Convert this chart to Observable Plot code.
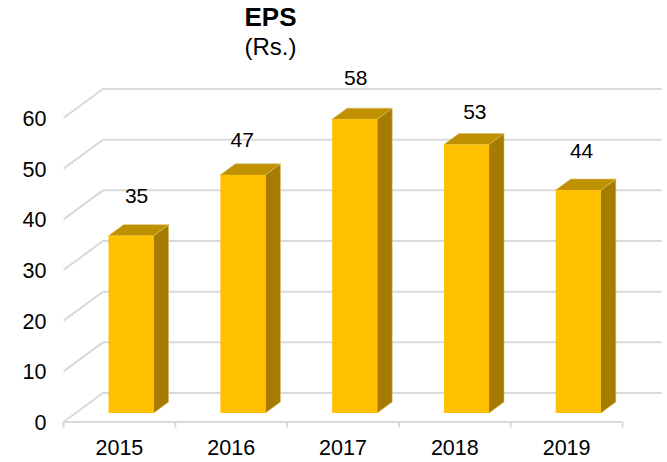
<!DOCTYPE html>
<html>
<head>
<meta charset="utf-8">
<script src="https://cdn.jsdelivr.net/npm/d3@7"></script>
<script src="https://cdn.jsdelivr.net/npm/@observablehq/plot@0.6"></script>
<style>
html,body{margin:0;padding:0;background:#fff;width:667px;height:462px;overflow:hidden}
#title{height:62px;width:541px;text-align:center;font-family:"Liberation Sans",Arial,sans-serif;color:#000;font-size:24px;line-height:29px;padding-top:3px;box-sizing:border-box}
#title b{display:block;font-size:26px}
svg{display:block}
</style>
</head>
<body>
<div id="title"><b>EPS</b><span>(Rs.)</span></div>
<div id="chart"></div>
<script>
const years = ["2015", "2016", "2017", "2018", "2019"];
const eps = [35, 47, 58, 53, 44];
const yTicks = [0, 10, 20, 30, 40, 50, 60];
const labelShiftX = [0.045, -0.01, 0.005, 0.07, 0.025];
const labelLift = [7.9, 6.9, 8.2, 6.4, 7.7];

// Oblique projection of a depth coordinate (0 front wall to 1 back wall) in data units.
const depthX = 0.353, depthY = 5.72;
const px = (x, d) => x + d * depthX;
const py = (y, d) => y + d * depthY;
const barFront = 0.293, barBack = 0.673, barLeft = 0.304, barRight = 0.707;

const bars = years.map((year, i) => ({year, i, value: eps[i]}));
const sidePoints = bars.flatMap(b => [barFront, barBack].map(d => ({
  id: b.year,
  x: px(b.i + barRight, d),
  y1: py(0, d),
  y2: py(b.value, d)
})));
const topPoints = bars.flatMap(b => [barFront, barBack].map(d => ({
  id: b.year,
  y: py(b.value, d),
  x1: px(b.i + barLeft, d),
  x2: px(b.i + barRight, d)
})));

const font = '"Liberation Sans", Arial, sans-serif';
const gridColor = "#D9D9D9";

const plot = Plot.plot({
  width: 667,
  height: 400,
  marginLeft: 63,
  marginRight: 45,
  marginTop: 55.5,
  marginBottom: 40.5,
  style: {fontFamily: font, fontSize: "21.5px", color: "#000", background: "#fff", overflow: "visible"},
  x: {type: "linear", domain: [0, years.length]},
  y: {type: "linear", domain: [0, 60]},
  marks: [
    // back wall gridlines
    Plot.link(yTicks, {
      x1: depthX, x2: years.length + depthX,
      y1: v => py(v, 1), y2: v => py(v, 1),
      stroke: gridColor, strokeWidth: 2
    }),
    // side wall gridlines
    Plot.link(yTicks, {
      x1: px(0, 0), x2: px(0, 1),
      y1: v => py(v, 0), y2: v => py(v, 1),
      stroke: gridColor, strokeWidth: 2
    }),
    // front floor edge
    Plot.ruleY([0], {x1: 0, x2: years.length, stroke: gridColor, strokeWidth: 2}),
    // category boundary ticks
    Plot.axisX(d3.range(years.length + 1), {
      tickSize: 6, tickFormat: () => "", stroke: gridColor, strokeWidth: 2, label: null, tickPadding: 0
    }),
    Plot.axisX(years.map((_, i) => i + 0.5), {
      tickSize: 0, tickPadding: 18, tickFormat: d => years[d - 0.5], fontSize: 21.5, label: null
    }),
    Plot.axisY(yTicks, {
      tickSize: 0, tickPadding: 17, fontSize: 21.5, label: null, tickFormat: d => String(d), dy: 1
    }),
    // bar side faces
    Plot.areaY(sidePoints, {x: "x", y1: "y1", y2: "y2", z: "id", fill: "#A67C00", stroke: "#D9BC6A", strokeWidth: 0.6}),
    // bar top faces
    Plot.areaX(topPoints, {y: "y", x1: "x1", x2: "x2", z: "id", fill: "#BF9000", stroke: "#D9BC6A", strokeWidth: 0.6}),
    // bar front faces
    Plot.rect(bars, {
      x1: b => px(b.i + barLeft, barFront),
      x2: b => px(b.i + barRight, barFront),
      y1: () => py(0, barFront),
      y2: b => py(b.value, barFront),
      fill: "#FFC000"
    }),
    // value labels
    Plot.text(bars, {
      x: b => px(b.i + (barLeft + barRight) / 2, barFront) + labelShiftX[b.i],
      y: b => py(b.value, barFront) + labelLift[b.i],
      text: b => String(b.value),
      fontSize: 21,
      fill: "#000"
    })
  ]
});
document.getElementById("chart").append(plot);
</script>
</body>
</html>
